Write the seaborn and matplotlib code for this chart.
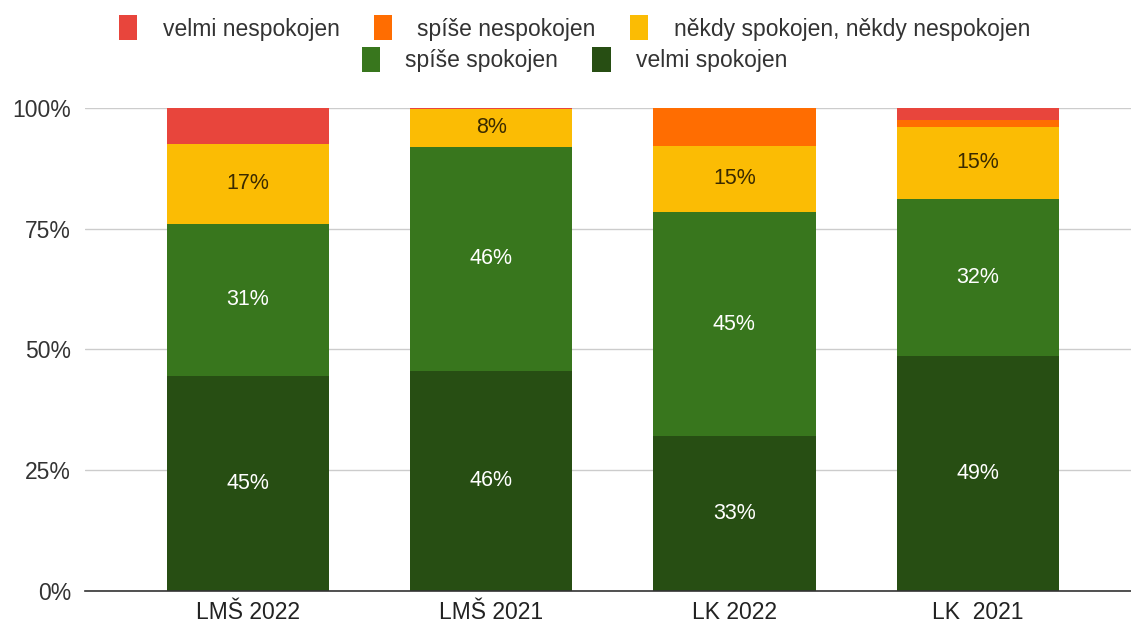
"""
Spokojenost: stacked 100% bars per survey (LMŠ / LK, 2022 vs 2021).
"""

import pandas as pd
import seaborn as sns
import matplotlib.pyplot as plt
from matplotlib.patches import Patch
from matplotlib import ticker as mticker


########  data  ########

GROUPS = ['LMŠ 2022', 'LMŠ 2021', 'LK 2022', 'LK  2021']

# segment heights in %, bottom to top
VELMI_SPOKOJEN = [44.6, 45.6, 32.0, 48.7]
SPISE_SPOKOJEN = [31.4, 46.4, 46.5, 32.5]
NEKDY = [16.6, 7.7, 13.7, 14.9]
SPISE_NESPOKOJEN = [0.0, 0.0, 7.8, 1.5]
VELMI_NESPOKOJEN = [7.4, 0.3, 0.0, 2.4]

# texts printed inside the segments
LBL_VELMI_SPOKOJEN = ['45%', '46%', '33%', '49%']
LBL_SPISE_SPOKOJEN = ['31%', '46%', '45%', '32%']
LBL_NEKDY = ['17%', '8%', '15%', '15%']

SERIES = ['velmi spokojen', 'spíše spokojen', 'někdy spokojen, někdy nespokojen',
          'spíše nespokojen', 'velmi nespokojen']
COLORS = {
    'velmi nespokojen': '#e8453c',
    'spíše nespokojen': '#ff6d01',
    'někdy spokojen, někdy nespokojen': '#fbbc04',
    'spíše spokojen': '#38761d',
    'velmi spokojen': '#274e13',
}
TEXT_COLORS = {
    'velmi spokojen': 'white',
    'spíše spokojen': 'white',
    'někdy spokojen, někdy nespokojen': '#3a2a00',
}

YTICKS = [0, 25, 50, 75, 100]

##########################


sns.set_style('white')
plt.rcParams['font.family'] = ['Liberation Sans', 'DejaVu Sans']

values = {
    'velmi spokojen': VELMI_SPOKOJEN,
    'spíše spokojen': SPISE_SPOKOJEN,
    'někdy spokojen, někdy nespokojen': NEKDY,
    'spíše nespokojen': SPISE_NESPOKOJEN,
    'velmi nespokojen': VELMI_NESPOKOJEN,
}
labels = {
    'velmi spokojen': LBL_VELMI_SPOKOJEN,
    'spíše spokojen': LBL_SPISE_SPOKOJEN,
    'někdy spokojen, někdy nespokojen': LBL_NEKDY,
}

df = pd.DataFrame(values, index=GROUPS)
cum = df[SERIES].cumsum(axis=1)
bottoms = cum - df[SERIES]

fig = plt.figure(figsize=(11.31, 6.24), dpi=100)
ax = fig.add_axes([0.075, 0.053, 0.925, 0.774])

# draw tallest cumulative first, each next one overwrites the lower part
for s in reversed(SERIES):
    d = pd.DataFrame({'group': GROUPS, 'val': cum[s].values})
    sns.barplot(data=d, x='group', y='val', order=GROUPS, color=COLORS[s],
                saturation=1, width=0.667, linewidth=0, ax=ax, zorder=2)

# segment labels
for s, txts in labels.items():
    for i, g in enumerate(GROUPS):
        yc = bottoms.loc[g, s] + df.loc[g, s] / 2
        ax.text(i, yc, txts[i], ha='center', va='center', fontsize=15.5,
                color=TEXT_COLORS[s], zorder=3)

# aesthetics
ax.set_xlim(-0.67, 3.63)
ax.set_ylim(0, 100)
ax.set_yticks(YTICKS)
ax.yaxis.set_major_formatter(mticker.FuncFormatter(lambda v, p: f'{v:.0f}%'))
ax.grid(True, axis='y', color='#cccccc', linewidth=1, zorder=0)
ax.set_axisbelow(True)
for sp in ['top', 'right', 'left']:
    ax.spines[sp].set_visible(False)
ax.spines['bottom'].set_color('#333333')
ax.spines['bottom'].set_linewidth(1.2)
ax.spines['bottom'].set_zorder(4)
ax.tick_params(axis='y', length=0, pad=10, labelsize=16.5, labelcolor='#333333')
ax.tick_params(axis='x', length=0, pad=7, labelsize=16.5, labelcolor='#222222')
ax.set_xlabel('')
ax.set_ylabel('')

# legend in two centred rows, like the original
def handles(names):
    return [Patch(facecolor=COLORS[n], edgecolor='none', label=n) for n in names]

row1 = ['velmi nespokojen', 'spíše nespokojen', 'někdy spokojen, někdy nespokojen']
row2 = ['spíše spokojen', 'velmi spokojen']
leg_kw = dict(frameon=False, fontsize=16.5, handlelength=0.8, handleheight=1.3,
              handletextpad=1.1, columnspacing=1.5, labelcolor='#333333')
fig.legend(handles=handles(row1), ncol=3, loc='center',
           bbox_to_anchor=(0.508, 0.955), **leg_kw)
fig.legend(handles=handles(row2), ncol=2, loc='center',
           bbox_to_anchor=(0.508, 0.905), **leg_kw)

plt.savefig('out.png', dpi=100)
plt.close()
